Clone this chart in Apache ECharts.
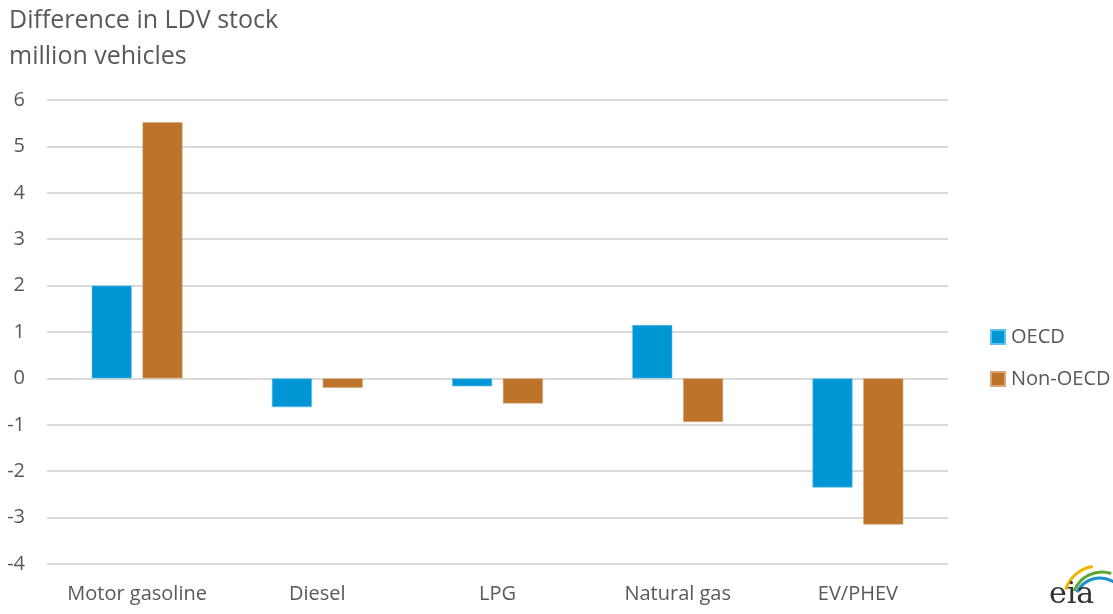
<!DOCTYPE html>
<html>
<head>
<meta charset="utf-8">
<script src="https://cdn.jsdelivr.net/npm/echarts@6/dist/echarts.min.js"></script>
<style>
  html, body { margin: 0; padding: 0; background: #fff; }
  #main { width: 1113px; height: 614px; }
</style>
</head>
<body>
<div id="main"></div>
<script>
// categories and values (million vehicles)
var categories = ['Motor gasoline', 'Diesel', 'LPG', 'Natural gas', 'EV/PHEV'];
var oecd = [2.0, -0.62, -0.17, 1.15, -2.35];
var nonOecd = [5.52, -0.2, -0.54, -0.94, -3.15];
var yTicks = [-4, -3, -2, -1, 0, 1, 2, 3, 4, 5, 6];

var textColor = '#595959';
var fontName = '"Open Sans", Lato, sans-serif';

var myChart = echarts.init(document.getElementById('main'));
myChart.setOption({
    animation: false,
    textStyle: { fontFamily: fontName },
    graphic: [
        {
            type: 'text', left: 9, top: 3,
            style: { text: 'Difference in LDV stock\nmillion vehicles', fill: textColor, font: '25px ' + fontName, lineHeight: 36 }
        },
        // eia logo (rough)
        { type: 'arc', shape: { cx: 1098, cy: 600, r: 34, startAngle: Math.PI * 1.1, endAngle: Math.PI * 1.45 }, style: { stroke: '#f0b400', lineWidth: 3, fill: null } },
        { type: 'arc', shape: { cx: 1102, cy: 602, r: 30, startAngle: Math.PI * 1.12, endAngle: Math.PI * 1.6 }, style: { stroke: '#5aa832', lineWidth: 3, fill: null } },
        { type: 'arc', shape: { cx: 1100, cy: 604, r: 26, startAngle: Math.PI * 1.15, endAngle: Math.PI * 1.95 }, style: { stroke: '#1b8fd2', lineWidth: 3, fill: null } },
        {
            type: 'text', left: 1049, top: 580,
            style: { text: 'eia', fill: '#333', font: '30px "DejaVu Serif", serif' }
        }
    ],
    legend: {
        orient: 'vertical',
        left: 985, top: 322,
        itemWidth: 14, itemHeight: 14,
        itemGap: 22,
        icon: 'rect',
        textStyle: { color: textColor, fontSize: 20, fontFamily: fontName, padding: [0, 0, 0, 1] },
        data: ['OECD', 'Non-OECD']
    },
    grid: { left: 47, right: 165, top: 100, bottom: 50, containLabel: false },
    xAxis: {
        type: 'category',
        data: categories,
        axisLine: { show: false },
        axisTick: { show: false },
        axisLabel: { color: textColor, fontSize: 20, fontFamily: fontName, margin: 20, interval: 0 }
    },
    yAxis: {
        type: 'value',
        min: yTicks[0], max: yTicks[yTicks.length - 1], interval: 1,
        axisLine: { show: false },
        axisTick: { show: false },
        axisLabel: { color: textColor, fontSize: 20, fontFamily: fontName, margin: 22 },
        splitLine: { lineStyle: { color: '#d9d9d9', width: 2 } }
    },
    series: [
        {
            name: 'OECD', type: 'bar', data: oecd,
            barWidth: 40, barGap: '27%',
            itemStyle: { color: '#0096d6', borderColor: '#5cc0ec', borderWidth: 0.6 }
        },
        {
            name: 'Non-OECD', type: 'bar', data: nonOecd,
            barWidth: 40, barGap: '27%',
            itemStyle: { color: '#bd732a', borderColor: '#d9a577', borderWidth: 0.6 }
        }
    ]
});
</script>
</body>
</html>
